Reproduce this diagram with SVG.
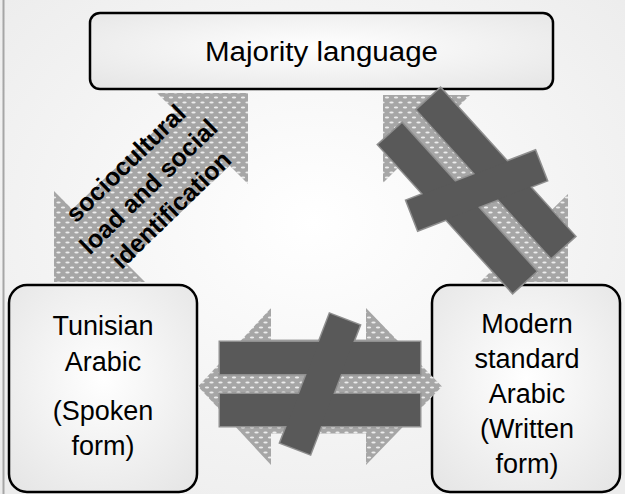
<svg xmlns="http://www.w3.org/2000/svg" xmlns:xlink="http://www.w3.org/1999/xlink" width="625" height="494" viewBox="0 0 625 494">
  <defs>
    <radialGradient id="bg" cx="50%" cy="45%" r="70%">
      <stop offset="0" stop-color="#ffffff"/>
      <stop offset="1" stop-color="#ececec"/>
    </radialGradient>
    <radialGradient id="boxfill" cx="50%" cy="45%" r="75%">
      <stop offset="0" stop-color="#ffffff"/>
      <stop offset="1" stop-color="#e4e4e4"/>
    </radialGradient>
    <pattern id="dots" width="9" height="10" patternUnits="userSpaceOnUse">
      <rect width="9" height="10" fill="#a6a6a6"/>
      <ellipse cx="4.5" cy="2.5" rx="2.2" ry="1.1" fill="#ededed"/>
      <ellipse cx="0" cy="7.5" rx="2.2" ry="1.1" fill="#ededed"/>
      <ellipse cx="9" cy="7.5" rx="2.2" ry="1.1" fill="#ededed"/>
    </pattern>
    <g id="neq">
      <g fill="#595959" stroke="#8f8f8f" stroke-width="3">
        <rect x="-100" y="-42" width="200" height="32"/>
        <rect x="-100" y="10" width="200" height="32"/>
        <rect x="-69" y="-16" width="138" height="32" transform="rotate(-69)"/>
      </g>
      <g fill="#595959">
        <rect x="-100" y="-42" width="200" height="32"/>
        <rect x="-100" y="10" width="200" height="32"/>
        <rect x="-69" y="-16" width="138" height="32" transform="rotate(-69)"/>
      </g>
    </g>
    <style>
      .box { fill: url(#boxfill); stroke: #000; stroke-width: 2.5; }
      .lbl { font-family: "Liberation Sans", Arial, sans-serif; font-size: 27px; fill: #000; text-anchor: middle; }
      .diag { font-family: "Liberation Sans", Arial, sans-serif; font-size: 25px; font-weight: bold; fill: #000; text-anchor: middle; }
      .arrow { fill: url(#dots); }
    </style>
  </defs>

  <rect x="0" y="0" width="625" height="494" fill="url(#bg)"/>
  <line x1="3.5" y1="0" x2="3.5" y2="494" stroke="#a6a6a6" stroke-width="2"/>

  <g id="node-majority">
    <rect class="box" x="90" y="13" width="463" height="76" rx="10"/>
    <text class="lbl" x="321.5" y="61" font-size="28.5" textLength="233" lengthAdjust="spacingAndGlyphs">Majority language</text>
  </g>

  <g id="node-tunisian">
    <rect class="box" x="9" y="285" width="188" height="207" rx="18"/>
    <text class="lbl" x="103" y="335">Tunisian</text>
    <text class="lbl" x="103" y="371">Arabic</text>
    <text class="lbl" x="103" y="420">(Spoken</text>
    <text class="lbl" x="103" y="455">form)</text>
  </g>

  <g id="node-msa">
    <rect class="box" x="432" y="285" width="188" height="207" rx="18"/>
    <text class="lbl" x="527" y="333">Modern</text>
    <text class="lbl" x="527" y="368">standard</text>
    <text class="lbl" x="527" y="403">Arabic</text>
    <text class="lbl" x="527" y="438">(Written</text>
    <text class="lbl" x="527" y="473">form)</text>
  </g>

  <g id="connectors">
    <g id="arrow-left">
      <path class="arrow" d="M248,93 L248,184 L229.8,165.8 L126.8,263.8 L145,282 L54,282 L54,191 L72.2,209.2 L175.2,111.2 L157,93 Z"/>
      <g transform="translate(151,187) rotate(-44.25)">
        <text class="diag" x="-1.5" y="-26">sociocultural</text>
        <text class="diag" x="-1.5" y="6.5">load and social</text>
        <text class="diag" x="-1.5" y="39">identification</text>
      </g>
    </g>
    <g id="arrow-right">
      <path class="arrow" d="M383,95 L470,95 L452.6,112.6 L550.1,211.6 L568,194 L568,282 L480,282 L497.9,264.4 L400.4,165.4 L383,183 Z"/>
      <use xlink:href="#neq" transform="translate(476.6,190.5) rotate(47.8)"/>
    </g>
    <g id="arrow-bottom">
      <path class="arrow" d="M198,386.5 L271,308 L271,339.5 L366,339.5 L366,308 L442,386.5 L366,465 L366,433.5 L271,433.5 L271,465 Z"/>
      <use xlink:href="#neq" transform="translate(320,384)"/>
    </g>
  </g>
</svg>
